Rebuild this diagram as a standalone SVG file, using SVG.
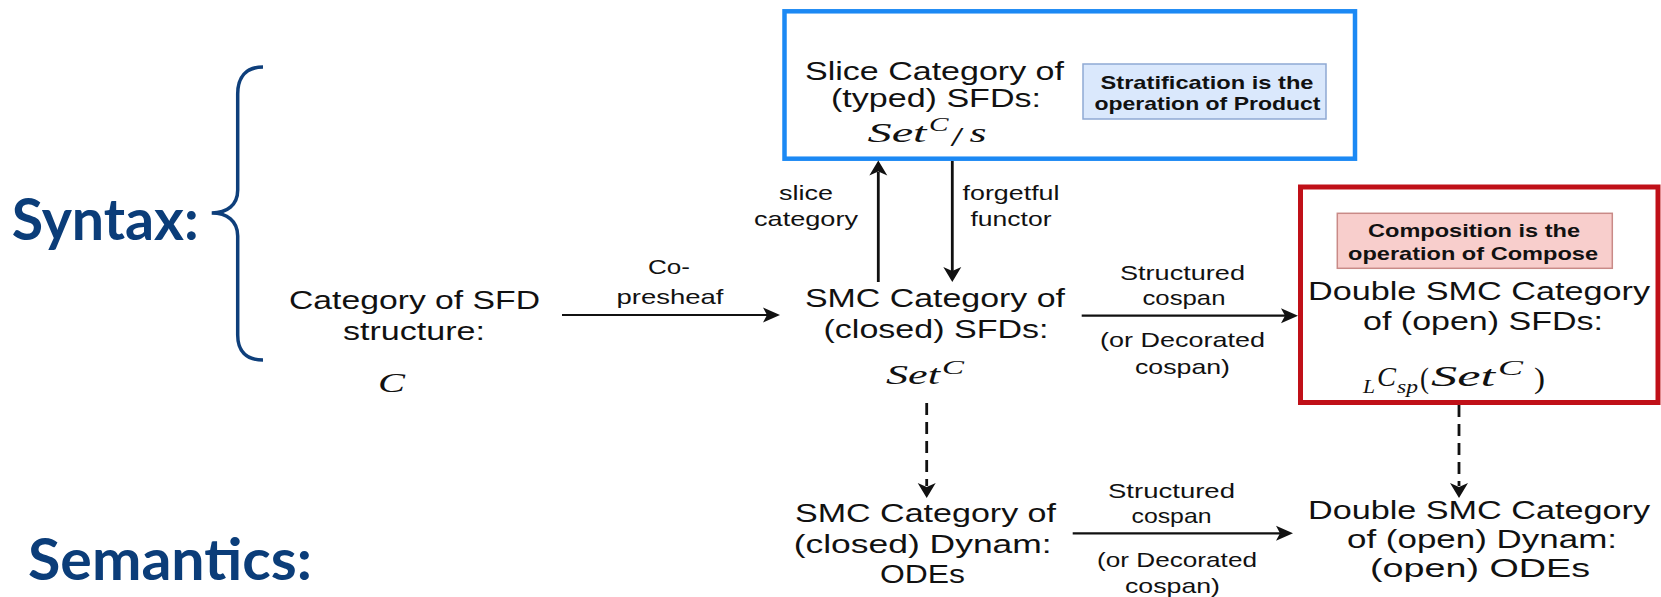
<svg xmlns="http://www.w3.org/2000/svg" xmlns:xlink="http://www.w3.org/1999/xlink" width="1661" height="597" viewBox="0 0 1661 597">
  <style>
    .t { font-family: "Liberation Sans", Arial, sans-serif; font-size: 25.5px; fill: #111; text-anchor: middle; }
    .s { font-size: 21px; }
    .b { font-weight: bold; font-size: 18.5px; }
    .m { font-family: "Liberation Serif", "Times New Roman", serif; font-style: italic; fill: #111; }
    .up { font-style: normal; }
    .h { font-family: Lato, "Open Sans", sans-serif; font-weight: bold; font-size: 58px; fill: #0b3d79; }
    .ln { stroke: #111; fill: none; }
    .hz { stroke-width: 2.2; }
    .vt { stroke-width: 2.8; }
    .dash { stroke-dasharray: 12 7; }
    .head { fill: #111; }
  </style>
  <defs>
    <!-- arrowheads, tip at the origin -->
    <path id="ahR" d="M0,0 L-17,-7.5 L-13,0 L-17,7.5 Z"/>
    <path id="ahU" d="M0,0 L-9,15 L0,11 L9,15 Z"/>
    <path id="ahD" d="M0,0 L-9,-15 L0,-11 L9,-15 Z"/>
  </defs>

  <rect width="1661" height="597" fill="#ffffff"/>

  <!-- side headings -->
  <g id="syntax-label">
    <text class="h" x="11.7" y="240" textLength="187" lengthAdjust="spacingAndGlyphs">Syntax:</text>
    <path d="M263,67 C246,67 237.7,77 237.7,94 L237.7,190 C237.7,205 227,213 211.7,213 C227,213 237.7,221 237.7,236 L237.7,335 C237.7,351 246,360 263,360" fill="none" stroke="#0e3f7b" stroke-width="3.5"/>
  </g>
  <g id="semantics-label">
    <text class="h" x="28" y="580" textLength="284" lengthAdjust="spacingAndGlyphs">Semantics:</text>
  </g>

  <!-- slice category (top, blue frame) -->
  <g id="slice-category">
    <rect x="784.5" y="11.3" width="570.5" height="147.4" fill="none" stroke="#1c89f4" stroke-width="4.5"/>
    <text class="t" x="934.5" y="80" textLength="259" lengthAdjust="spacingAndGlyphs">Slice Category of</text>
    <text class="t" x="936" y="107" textLength="210" lengthAdjust="spacingAndGlyphs">(typed) SFDs:</text>
    <text class="m" x="867.5" y="141.5" font-size="28" textLength="59" lengthAdjust="spacingAndGlyphs">Set</text>
    <text class="m" x="929" y="131" font-size="19" textLength="19.5" lengthAdjust="spacingAndGlyphs">C</text>
    <text class="m up" x="950.5" y="146" font-size="28" textLength="13" lengthAdjust="spacingAndGlyphs">/</text>
    <text class="m" x="969.5" y="141.5" font-size="28" textLength="17" lengthAdjust="spacingAndGlyphs">s</text>
  </g>
  <g id="note-stratification">
    <rect x="1083" y="64" width="243" height="55" fill="#dae8fc" stroke="#8fa9d3" stroke-width="1.5"/>
    <text class="t b" x="1207" y="88.5" textLength="213" lengthAdjust="spacingAndGlyphs">Stratification is the</text>
    <text class="t b" x="1207.5" y="109.5" textLength="226" lengthAdjust="spacingAndGlyphs">operation of Product</text>
  </g>

  <!-- SFD structure -->
  <g id="sfd-structure">
    <text class="t" x="414.5" y="309" textLength="251" lengthAdjust="spacingAndGlyphs">Category of SFD</text>
    <text class="t" x="414" y="340" textLength="142" lengthAdjust="spacingAndGlyphs">structure:</text>
    <text class="m" x="378" y="392" font-size="28" textLength="27" lengthAdjust="spacingAndGlyphs">C</text>
  </g>

  <!-- closed SFDs -->
  <g id="closed-sfds">
    <text class="t" x="935" y="306.7" textLength="260" lengthAdjust="spacingAndGlyphs">SMC Category of</text>
    <text class="t" x="936" y="338.3" textLength="225" lengthAdjust="spacingAndGlyphs">(closed) SFDs:</text>
    <text class="m" x="886" y="384" font-size="27" textLength="54" lengthAdjust="spacingAndGlyphs">Set</text>
    <text class="m" x="942" y="374" font-size="19" textLength="22" lengthAdjust="spacingAndGlyphs">C</text>
  </g>

  <!-- open SFDs (red frame) -->
  <g id="open-sfds">
    <rect x="1300.5" y="187" width="357.5" height="215.5" fill="none" stroke="#c01018" stroke-width="5"/>
    <text class="t" x="1479" y="300" textLength="342" lengthAdjust="spacingAndGlyphs">Double SMC Category</text>
    <text class="t" x="1483" y="329.5" textLength="240" lengthAdjust="spacingAndGlyphs">of (open) SFDs:</text>
    <text class="m" x="1363" y="393" font-size="18" textLength="12" lengthAdjust="spacingAndGlyphs">L</text>
    <text class="m" x="1377" y="386" font-size="27" textLength="19" lengthAdjust="spacingAndGlyphs">C</text>
    <text class="m" x="1397" y="393" font-size="18" textLength="21" lengthAdjust="spacingAndGlyphs">sp</text>
    <text class="m up" x="1420" y="388" font-size="29" textLength="9" lengthAdjust="spacingAndGlyphs">(</text>
    <text class="m" x="1431" y="386" font-size="30" textLength="64" lengthAdjust="spacingAndGlyphs">Set</text>
    <text class="m" x="1498" y="375" font-size="21" textLength="25" lengthAdjust="spacingAndGlyphs">C</text>
    <text class="m up" x="1534" y="388" font-size="29" textLength="11" lengthAdjust="spacingAndGlyphs">)</text>
  </g>
  <g id="note-composition">
    <rect x="1337.3" y="213.3" width="275" height="55" fill="#f8cecc" stroke="#c98a87" stroke-width="1.5"/>
    <text class="t b" x="1474" y="236.5" textLength="212" lengthAdjust="spacingAndGlyphs">Composition is the</text>
    <text class="t b" x="1473" y="259.5" textLength="250" lengthAdjust="spacingAndGlyphs">operation of Compose</text>
  </g>

  <!-- closed dynamics -->
  <g id="closed-dynam">
    <text class="t" x="925.5" y="521.7" textLength="261" lengthAdjust="spacingAndGlyphs">SMC Category of</text>
    <text class="t" x="922.7" y="552.7" textLength="258" lengthAdjust="spacingAndGlyphs">(closed) Dynam:</text>
    <text class="t" x="922.5" y="583" textLength="85" lengthAdjust="spacingAndGlyphs">ODEs</text>
  </g>

  <!-- open dynamics -->
  <g id="open-dynam">
    <text class="t" x="1479" y="519" textLength="342" lengthAdjust="spacingAndGlyphs">Double SMC Category</text>
    <text class="t" x="1482" y="548.3" textLength="270" lengthAdjust="spacingAndGlyphs">of (open) Dynam:</text>
    <text class="t" x="1480" y="576.7" textLength="220" lengthAdjust="spacingAndGlyphs">(open) ODEs</text>
  </g>

  <!-- connectors -->
  <g id="connectors">
    <!-- co-presheaf -->
    <line class="ln hz" x1="562" y1="315" x2="768" y2="315"/>
    <use href="#ahR" x="780" y="315" class="head"/>
    <text class="t s" x="669" y="274" textLength="42" lengthAdjust="spacingAndGlyphs">Co-</text>
    <text class="t s" x="670" y="304" textLength="107" lengthAdjust="spacingAndGlyphs">presheaf</text>

    <!-- slice category (up) -->
    <line class="ln vt" x1="878.3" y1="282" x2="878.3" y2="172"/>
    <use href="#ahU" x="878.3" y="160.5" class="head"/>
    <text class="t s" x="806" y="200" textLength="54" lengthAdjust="spacingAndGlyphs">slice</text>
    <text class="t s" x="806" y="226" textLength="104" lengthAdjust="spacingAndGlyphs">category</text>

    <!-- forgetful functor (down) -->
    <line class="ln vt" x1="952.3" y1="161" x2="952.3" y2="271"/>
    <use href="#ahD" x="952.3" y="282" class="head"/>
    <text class="t s" x="1011" y="199.5" textLength="97" lengthAdjust="spacingAndGlyphs">forgetful</text>
    <text class="t s" x="1011" y="226" textLength="81" lengthAdjust="spacingAndGlyphs">functor</text>

    <!-- structured cospan (SFDs) -->
    <line class="ln hz" x1="1081.7" y1="315.7" x2="1286" y2="315.7"/>
    <use href="#ahR" x="1298" y="315.7" class="head"/>
    <text class="t s" x="1182.5" y="280" textLength="125" lengthAdjust="spacingAndGlyphs">Structured</text>
    <text class="t s" x="1184" y="305" textLength="83" lengthAdjust="spacingAndGlyphs">cospan</text>
    <text class="t s" x="1182.5" y="347.3" textLength="165" lengthAdjust="spacingAndGlyphs">(or Decorated</text>
    <text class="t s" x="1182.5" y="374" textLength="95" lengthAdjust="spacingAndGlyphs">cospan)</text>

    <!-- semantics functors (dashed) -->
    <line class="ln vt dash" x1="926.7" y1="403" x2="926.7" y2="486"/>
    <use href="#ahD" x="926.7" y="498" class="head"/>
    <line class="ln vt dash" x1="1459" y1="405" x2="1459" y2="486"/>
    <use href="#ahD" x="1459" y="498" class="head"/>

    <!-- structured cospan (dynamics) -->
    <line class="ln hz" x1="1072.7" y1="533.3" x2="1281" y2="533.3"/>
    <use href="#ahR" x="1293" y="533.3" class="head"/>
    <text class="t s" x="1171.5" y="498.3" textLength="127" lengthAdjust="spacingAndGlyphs">Structured</text>
    <text class="t s" x="1171.5" y="523" textLength="80" lengthAdjust="spacingAndGlyphs">cospan</text>
    <text class="t s" x="1177" y="566.7" textLength="160" lengthAdjust="spacingAndGlyphs">(or Decorated</text>
    <text class="t s" x="1172.5" y="593" textLength="95" lengthAdjust="spacingAndGlyphs">cospan)</text>
  </g>
</svg>
